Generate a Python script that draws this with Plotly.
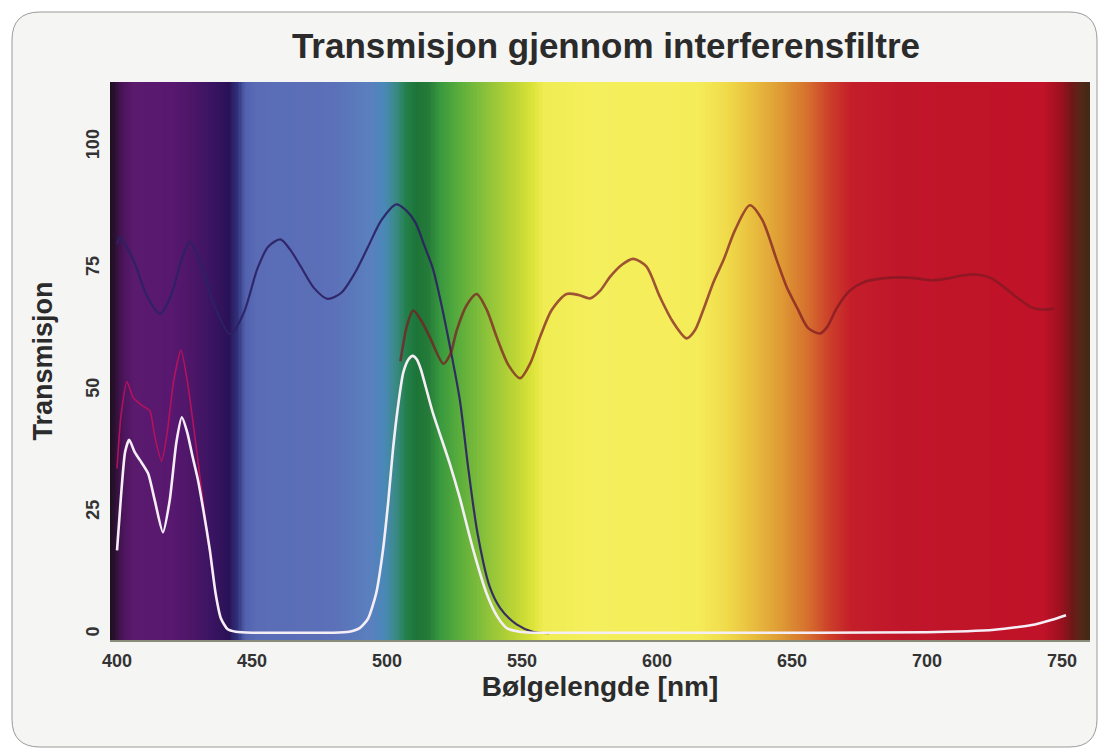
import numpy as np
import plotly.graph_objects as go

# ---------------- data ----------------
# visible-spectrum background: wavelength (nm) -> colour
spec_nm = [397.0, 399.0, 402.0, 406.0, 420.0, 428.0, 435.0, 441.5, 444.5, 447.5,
           452.0, 480.0, 494.0, 499.0, 503.0, 507.0, 511.0, 515.0, 520.0, 527.0,
           538.0, 548.0, 554.0, 558.0, 575.0, 615.0, 626.0, 636.0, 646.0, 656.0,
           664.0, 672.0, 690.0, 743.0, 749.0, 753.5, 757.0, 760.5, 762.0]
spec_colors = ["#1a1018", "#2a1030", "#4a1458", "#5a1a6e", "#581870", "#4c1668",
               "#3a1462", "#2a1256", "#30307a", "#5262ae", "#5a6cb6", "#5b70b8",
               "#5a80bf", "#4a88b8", "#3a8a8a", "#24804a", "#1c7438", "#247a38",
               "#3a9a3e", "#5cae3c", "#92c43a", "#c0d634", "#dce43a", "#f0ec52",
               "#f4ef5c", "#f5ec5a", "#f0da4a", "#e8bc3e", "#de9a34", "#d66e2e",
               "#cc3e2a", "#c41e2a", "#c0162a", "#c01228", "#a01020", "#701818",
               "#542818", "#3e2a16", "#3e2a16"]

# filter 1 (dark blue curve)
blue_nm = [400, 401, 404, 407, 411, 416, 420, 424, 427, 431, 436, 442, 447, 452,
           456, 460.5, 464, 468, 473, 478, 483, 488, 493, 498, 503.5, 507, 510.5,
           514, 517, 520, 523.5, 527, 530, 533.5, 538, 542, 548, 554, 560]
blue_T = [80, 81.5, 79, 75.5, 69.5, 65.7, 69.5, 77, 80.5, 76, 67.5, 61.5, 66, 75,
          79.5, 81, 79, 75.5, 71, 68.8, 70, 74, 79.5, 85, 88.2, 87, 84.5, 79.5,
          75, 68, 58.5, 48, 34.5, 20.8, 9.8, 5.3, 2, 0.5, 0.2]

# filter 2 (dark red curve)
red_nm = [505, 507.5, 509.7, 512.5, 515.9, 520.9, 523.5, 525.8, 529.5, 533.2, 537,
          540.6, 545, 549.3, 553, 556.7, 561, 566.5, 571, 575.2, 579, 582.6, 587,
          591.2, 596, 601.1, 606, 611, 614, 617, 621, 624.6, 629, 634.4, 639,
          644.4, 648, 651.9, 656, 660.4, 663, 666.7, 671.5, 677, 683.7, 690, 696,
          702, 708, 713, 718.5, 724, 729, 733.3, 739, 743, 747]
red_T = [56, 63.5, 66.4, 64.5, 60.9, 55.5, 57.5, 62.3, 67.5, 69.8, 66.5,
         61, 55.2, 52.5, 55.5, 61, 66.5, 69.8, 69.6, 68.9, 70.5, 73.3, 75.8,
         77, 75.5, 69.2, 64, 60.7, 62.3, 66.3, 72.3, 76.7, 83, 88, 85,
         76.7, 71.3, 67, 62.8, 61.7, 63, 67, 70.5, 72.3, 73, 73.2, 73,
         72.6, 73, 73.6, 73.8, 73, 71, 69.1, 67, 66.6, 66.8]

# filter 3 (magenta curve)
magenta_nm = [400, 401.5, 403.7, 406, 409.6, 412.2, 414, 416.5, 418.5, 421, 423.7,
              426, 428.5, 431, 433.5, 435.5]
magenta_T = [34, 45, 51.8, 48.5, 46.8, 45.8, 40.5, 35.5, 41, 52, 58.3,
             52, 42, 31, 20, 12]

# filter 4 (white curve)
white_nm = [400, 401.5, 403, 404.5, 406.5, 408.5, 411.5, 414, 417, 419.5, 422, 424,
            426, 428, 430, 432, 434.4, 436.5, 438.5, 441, 444, 450, 460, 470, 480,
            486, 490, 493, 496, 498.5, 500.5, 502.2, 504, 506, 508, 509.5, 511,
            512.5, 515, 517, 520, 523.3, 527, 532, 537, 541, 544.5, 549, 554, 560,
            580, 620, 660, 700, 715, 725, 733, 740, 746, 751.5]
white_T = [17.2, 28.5, 37.4, 39.9, 37.4, 35.7, 33, 27.4, 20.9, 27.4, 39.4, 44.5,
           41.4, 36.4, 31.6, 25.4, 17.2, 8.4, 3.2, 1.0, 0.5, 0.3, 0.3, 0.3, 0.3,
           0.5, 1.3, 3.2, 8.4, 17.2, 27.4, 37.8, 46.4, 53.6, 56.4, 57.1, 56.4,
           54.4, 49.4, 45.4, 40.4, 34.9, 27.9, 17.2, 8.2, 3.5, 1.2, 0.5, 0.3, 0.3,
           0.3, 0.3, 0.3, 0.4, 0.6, 0.9, 1.4, 2.0, 2.9, 3.9]

x_ticks = [400, 450, 500, 550, 600, 650, 700, 750]
y_ticks = [0, 25, 50, 75, 100]

TITLE = "Transmisjon gjennom interferensfiltre"
X_TITLE = "Bølgelengde [nm]"
Y_TITLE = "Transmisjon"

# ---------------- figure ----------------
W, H = 1099, 749
ML, MR, MT, MB = 110, 9, 82, 109
X_RANGE = [397.4, 760.4]
Y_RANGE = [-1.2, 113.3]

nm_lo, nm_hi = spec_nm[0], spec_nm[-1]
colorscale = [[(n - nm_lo) / (nm_hi - nm_lo), c] for n, c in zip(spec_nm, spec_colors)]
grid = np.arange(nm_lo, nm_hi + 0.01, 0.5)

fig = go.Figure()
fig.add_trace(go.Heatmap(
    x=grid, y=[-20, 140], z=[grid, grid],
    colorscale=colorscale, zmin=nm_lo, zmax=nm_hi,
    showscale=False, hoverinfo="skip"))

fig.add_trace(go.Scatter(x=blue_nm, y=blue_T, mode="lines",
                         line=dict(color="rgba(44,34,100,0.92)", width=2.2, shape="spline", smoothing=0.8),
                         name="Filter 1"))
fig.add_trace(go.Scatter(x=red_nm, y=red_T, mode="lines",
                         line=dict(color="rgba(125,25,35,0.72)", width=2.6, shape="spline", smoothing=0.8),
                         name="Filter 2"))
fig.add_trace(go.Scatter(x=magenta_nm, y=magenta_T, mode="lines",
                         line=dict(color="#b3125c", width=1.6, shape="spline", smoothing=0.6),
                         name="Filter 3"))
fig.add_trace(go.Scatter(x=white_nm, y=white_T, mode="lines",
                         line=dict(color="#f6eef6", width=2.6, shape="spline", smoothing=0.6),
                         name="Filter 4"))

# rounded card behind the chart
pw, ph = W - ML - MR, H - MT - MB


def px(x):
    return (x - ML) / pw


def py(y):
    return (H - MB - y) / ph


x0, x1, y0, y1, r = 12, 1097, 12, 747, 28
card_path = (
    f"M {px(x0 + r)},{py(y0)} L {px(x1 - r)},{py(y0)} Q {px(x1)},{py(y0)} {px(x1)},{py(y0 + r)} "
    f"L {px(x1)},{py(y1 - r)} Q {px(x1)},{py(y1)} {px(x1 - r)},{py(y1)} "
    f"L {px(x0 + r)},{py(y1)} Q {px(x0)},{py(y1)} {px(x0)},{py(y1 - r)} "
    f"L {px(x0)},{py(y0 + r)} Q {px(x0)},{py(y0)} {px(x0 + r)},{py(y0)} Z"
)
fig.add_shape(type="path", path=card_path, xref="paper", yref="paper",
              fillcolor="#f5f5f3", line=dict(color="#9a9a9a", width=1), layer="below")

font_family = "Liberation Sans, Arial, Helvetica, sans-serif"
fig.update_layout(
    width=W, height=H,
    margin=dict(l=ML, r=MR, t=MT, b=MB),
    paper_bgcolor="white", plot_bgcolor="#f5f5f3",
    showlegend=False,
    title=dict(text=TITLE, x=(606 - ML) / pw, xref="paper", xanchor="center",
               y=1 - 46 / H, yref="container", yanchor="middle",
               font=dict(family=font_family, size=35, color="#2b2b2b", weight="bold")),
    xaxis=dict(range=X_RANGE, tickvals=x_ticks, showgrid=False, zeroline=False,
               ticks="", ticklabelstandoff=3, automargin=False,
               tickfont=dict(family=font_family, size=18, color="#333333", weight="bold"),
               showline=True, linecolor="rgba(120,120,100,0.85)", linewidth=2,
               title=dict(text=X_TITLE, standoff=0,
                          font=dict(family=font_family, size=28, color="#2b2b2b", weight="bold"))),
    yaxis=dict(range=Y_RANGE, tickvals=y_ticks, showgrid=False, zeroline=False,
               ticks="", tickangle=-90, ticklabelstandoff=6, automargin=False,
               tickfont=dict(family=font_family, size=18, color="#333333", weight="bold"),
               title=dict(text=Y_TITLE, standoff=22,
                          font=dict(family=font_family, size=27, color="#2b2b2b", weight="bold"))),
)

fig.write_html("out.html", config={"displayModeBar": False},
               post_script="document.body.style.margin='0';")
